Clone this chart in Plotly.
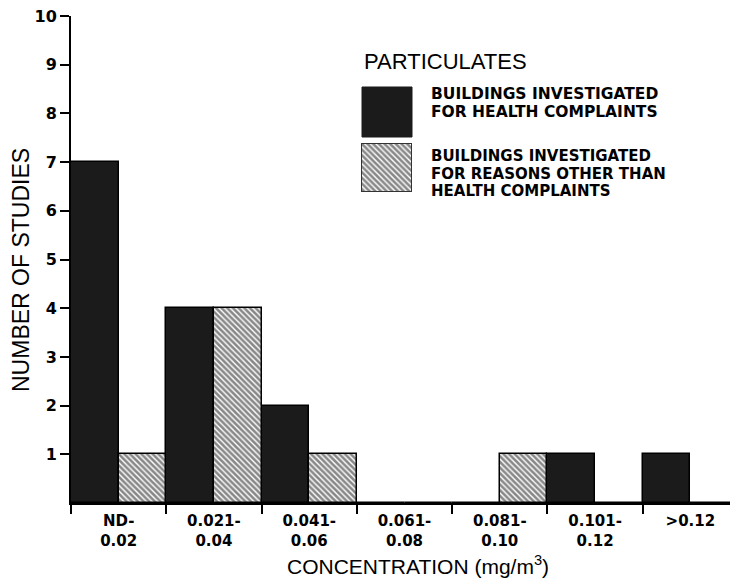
import plotly.graph_objects as go

# ---- data ----
categories = ["ND-<br>0.02", "0.021-<br>0.04", "0.041-<br>0.06", "0.061-<br>0.08",
              "0.081-<br>0.10", "0.101-<br>0.12", ">0.12"]
health_complaints = [7, 4, 2, 0, 0, 1, 1]
other_reasons = [1, 4, 1, 0, 1, 0, 0]
y_ticks = [1, 2, 3, 4, 5, 6, 7, 8, 9, 10]

legend_title = "PARTICULATES"
legend_health = ["BUILDINGS INVESTIGATED", "FOR HEALTH COMPLAINTS"]
legend_other = ["BUILDINGS INVESTIGATED", "FOR REASONS OTHER THAN", "HEALTH COMPLAINTS"]

# ---- layout geometry ----
# The page body has an 8px default margin, so the figure is 8px smaller
# and all reference pixel positions are shifted by that offset.
OFF = 8
W, H = 738 - OFF, 580 - OFF
L_ref, R_ref, T_ref, B_ref = 71, 738, 16, 503
L, R, T, B = L_ref - OFF, R_ref - OFF, T_ref - OFF, B_ref - OFF


def px(x):
    return (x - L_ref) / (R_ref - L_ref)


def py(y):
    return (B_ref - y) / (B_ref - T_ref)


BOLD = "DejaVu Sans"
REG = "Liberation Sans, Arial, sans-serif"
HATCH = dict(shape="\\", fgcolor="#121212", bgcolor="white", size=4, solidity=0.65)

fig = go.Figure()
fig.add_trace(go.Bar(
    x=categories, y=health_complaints, name="health",
    marker=dict(color="#1b1b1b", line=dict(color="black", width=1.5)),
    showlegend=False,
))
fig.add_trace(go.Bar(
    x=categories, y=other_reasons, name="other",
    marker=dict(color="white", line=dict(color="black", width=1.5), pattern=HATCH),
    showlegend=False,
))

# hatched legend swatch on an inset axis
fig.add_trace(go.Bar(
    x=[0.5], y=[1], width=[1], xaxis="x2", yaxis="y2",
    marker=dict(color="white", line=dict(color="#333", width=2), pattern=HATCH),
    showlegend=False, hoverinfo="skip",
))

fig.update_layout(
    width=W, height=H,
    margin=dict(l=L, r=W - R, t=T, b=H - B, autoexpand=False),
    paper_bgcolor="white", plot_bgcolor="white",
    barmode="group", bargap=0, bargroupgap=0,
    showlegend=False,
    xaxis=dict(
        type="category", categoryorder="array", categoryarray=categories,
        range=[-0.5, 6.5], tickson="boundaries",
        ticks="outside", ticklen=9, tickwidth=2, tickcolor="black",
        showline=True, linecolor="black", linewidth=2,
        showgrid=False, zeroline=False, automargin=False,
        ticklabelstandoff=3,
        tickfont=dict(family=BOLD, size=15, color="black", weight="bold"),
    ),
    yaxis=dict(
        range=[0, 10], tickmode="array", tickvals=y_ticks,
        ticks="outside", ticklen=9, tickwidth=2, tickcolor="black",
        showline=True, linecolor="black", linewidth=2,
        showgrid=False, zeroline=False, automargin=False,
        ticklabeloverflow="allow",
        tickfont=dict(family=BOLD, size=16, color="black", weight="bold"),
    ),
    xaxis2=dict(domain=[px(361), px(412)], range=[0, 1], visible=False,
                anchor="y2", fixedrange=True),
    yaxis2=dict(domain=[py(192), py(143)], range=[0, 1], visible=False,
                anchor="x2", fixedrange=True),
)

# black legend swatch
fig.add_shape(type="rect", xref="paper", yref="paper",
              x0=px(362), x1=px(412), y0=py(137), y1=py(87),
              fillcolor="#1b1b1b", line=dict(color="#1b1b1b", width=1))

annotations = []
annotations.append(dict(text=legend_title, x=px(362), y=py(62), xanchor="left", yanchor="middle",
                        font=dict(family=REG, size=22, color="black")))
for i, line in enumerate(legend_health):
    annotations.append(dict(text=line, x=px(430), y=py(94 + 18 * i), xanchor="left", yanchor="middle",
                            font=dict(family=BOLD, size=15.5, color="black", weight="bold"),
                            borderpad=0))
for i, line in enumerate(legend_other):
    annotations.append(dict(text=line, x=px(430), y=py(156 + 17.5 * i), xanchor="left", yanchor="middle",
                            font=dict(family=BOLD, size=15, color="black", weight="bold"),
                            borderpad=0))
annotations.append(dict(text="CONCENTRATION (mg/m<sup>3</sup>)", x=px(418), y=py(565),
                        xanchor="center", yanchor="middle",
                        font=dict(family=REG, size=21, color="black")))
annotations.append(dict(text="NUMBER OF STUDIES", x=px(21), y=py(270), textangle=-90,
                        xanchor="center", yanchor="middle",
                        font=dict(family=REG, size=23, color="black")))
for a in annotations:
    a.update(xref="paper", yref="paper", showarrow=False)
fig.update_layout(annotations=annotations)

fig.write_html("out.html")
